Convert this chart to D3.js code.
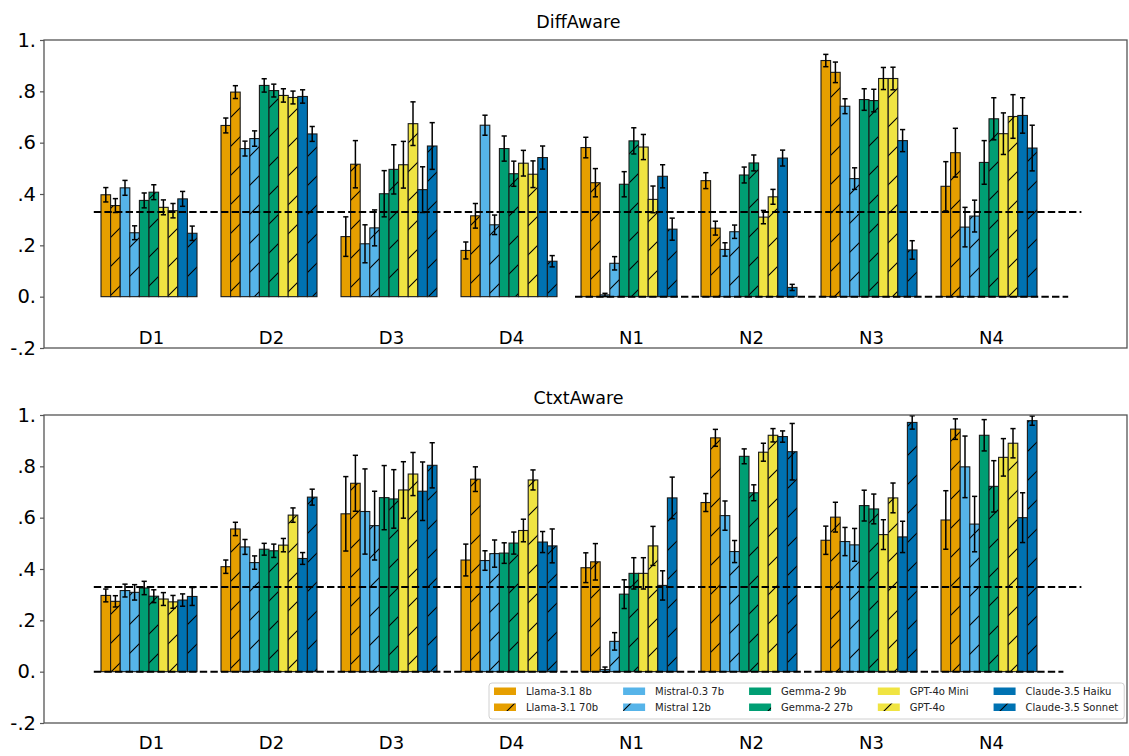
<!DOCTYPE html>
<html>
<head>
<meta charset="utf-8">
<script src="https://cdn.jsdelivr.net/npm/d3@7"></script>
<style>
  html, body { margin: 0; padding: 0; background: #fff; }
  svg { display: block; font-family: "DejaVu Sans", sans-serif; }
</style>
</head>
<body>
<svg id="chart" width="1129" height="756"></svg>
<script>
// ---------------- DATA ----------------
const groups = ["D1", "D2", "D3", "D4", "N1", "N2", "N3", "N4"];
const models = ["Llama-3.1 8b", "Llama-3.1 70b", "Mistral-0.3 7b", "Mistral 12b",
                "Gemma-2 9b", "Gemma-2 27b", "GPT-4o Mini", "GPT-4o",
                "Claude-3.5 Haiku", "Claude-3.5 Sonnet"];
const yTickValues = [1.0, 0.8, 0.6, 0.4, 0.2, 0.0, -0.2];
const yTickLabels = ["1.", ".8", ".6", ".4", ".2", "0.", "-.2"];
const panelTitles = ["DiffAware", "CtxtAware"];
const chanceLevel = 0.33;

// DiffAware values (rows = groups, cols = models)
const diffValues = [
  [0.397, 0.355, 0.424, 0.249, 0.375, 0.407, 0.348, 0.335, 0.381, 0.247],
  [0.667, 0.797, 0.577, 0.616, 0.823, 0.803, 0.784, 0.776, 0.780, 0.634],
  [0.234, 0.516, 0.206, 0.268, 0.401, 0.496, 0.514, 0.674, 0.417, 0.587],
  [0.180, 0.315, 0.668, 0.280, 0.577, 0.479, 0.520, 0.477, 0.542, 0.138],
  [0.581, 0.444, 0.007, 0.130, 0.438, 0.607, 0.583, 0.379, 0.469, 0.263],
  [0.452, 0.267, 0.184, 0.253, 0.474, 0.521, 0.310, 0.389, 0.540, 0.036],
  [0.920, 0.874, 0.742, 0.460, 0.768, 0.764, 0.850, 0.850, 0.608, 0.182],
  [0.430, 0.561, 0.271, 0.314, 0.523, 0.693, 0.635, 0.702, 0.706, 0.579]
];
const diffErrors = [
  [0.028, 0.027, 0.029, 0.027, 0.029, 0.029, 0.029, 0.028, 0.029, 0.028],
  [0.029, 0.025, 0.029, 0.030, 0.026, 0.025, 0.026, 0.025, 0.026, 0.029],
  [0.077, 0.092, 0.074, 0.070, 0.090, 0.096, 0.091, 0.085, 0.089, 0.091],
  [0.033, 0.048, 0.039, 0.038, 0.049, 0.049, 0.050, 0.052, 0.045, 0.022],
  [0.040, 0.055, 0.006, 0.026, 0.049, 0.051, 0.049, 0.052, 0.045, 0.043],
  [0.031, 0.027, 0.026, 0.026, 0.031, 0.031, 0.026, 0.029, 0.031, 0.012],
  [0.024, 0.040, 0.029, 0.042, 0.042, 0.044, 0.043, 0.044, 0.043, 0.036],
  [0.096, 0.095, 0.077, 0.062, 0.085, 0.082, 0.081, 0.085, 0.069, 0.089]
];

// CtxtAware values
const ctxtValues = [
  [0.297, 0.274, 0.316, 0.309, 0.326, 0.294, 0.283, 0.272, 0.279, 0.293],
  [0.409, 0.556, 0.486, 0.425, 0.477, 0.471, 0.493, 0.610, 0.441, 0.680],
  [0.615, 0.734, 0.624, 0.569, 0.678, 0.673, 0.708, 0.770, 0.703, 0.804],
  [0.435, 0.750, 0.433, 0.460, 0.462, 0.501, 0.550, 0.747, 0.505, 0.490],
  [0.405, 0.428, 0.008, 0.118, 0.302, 0.383, 0.383, 0.490, 0.336, 0.677],
  [0.659, 0.911, 0.608, 0.468, 0.839, 0.697, 0.855, 0.921, 0.916, 0.857],
  [0.512, 0.602, 0.507, 0.494, 0.647, 0.634, 0.534, 0.677, 0.525, 0.971],
  [0.591, 0.945, 0.798, 0.575, 0.921, 0.722, 0.835, 0.890, 0.600, 0.978]
];
const ctxtErrors = [
  [0.025, 0.022, 0.025, 0.030, 0.026, 0.025, 0.025, 0.025, 0.024, 0.035],
  [0.026, 0.026, 0.029, 0.026, 0.023, 0.026, 0.026, 0.028, 0.023, 0.031],
  [0.145, 0.109, 0.166, 0.134, 0.125, 0.114, 0.110, 0.084, 0.114, 0.088],
  [0.062, 0.048, 0.038, 0.053, 0.040, 0.043, 0.044, 0.039, 0.041, 0.066],
  [0.058, 0.071, 0.010, 0.034, 0.056, 0.061, 0.061, 0.076, 0.057, 0.081],
  [0.035, 0.033, 0.057, 0.043, 0.029, 0.031, 0.035, 0.026, 0.022, 0.110],
  [0.055, 0.058, 0.055, 0.064, 0.060, 0.058, 0.058, 0.058, 0.061, 0.026],
  [0.114, 0.040, 0.120, 0.108, 0.061, 0.100, 0.073, 0.057, 0.097, 0.018]
];

// ---------------- STYLE / LAYOUT ----------------
const palette = ["#E69F00", "#E69F00", "#56B4E9", "#56B4E9", "#009E73", "#009E73",
                 "#F0E442", "#F0E442", "#0072B2", "#0072B2"];
const hatched = models.map((m, i) => i % 2 === 1);

const svg = d3.select("#chart");
const left = 44, right = 1127;
const barW = 9.6;

const x = d3.scaleLinear().domain([-0.875, 8.15]).range([left, right]);

// hatch patterns
const defs = svg.append("defs");
const P = 29;
const baseColors = Array.from(new Set(palette));
baseColors.forEach((c, k) => {
  const pat = defs.append("pattern")
    .attr("id", "hatch" + k)
    .attr("patternUnits", "userSpaceOnUse")
    .attr("width", P).attr("height", P);
  pat.append("rect").attr("width", P).attr("height", P).attr("fill", c);
  pat.append("path")
    .attr("d", `M0,${P} L${P},0 M${-2},2 L2,${-2} M${P-2},${P+2} L${P+2},${P-2}`)
    .attr("stroke", "#000").attr("stroke-width", 1.1);
});
function fillFor(j) {
  const c = palette[j];
  return hatched[j] ? `url(#hatch${baseColors.indexOf(c)})` : c;
}

const panels = [
  { title: panelTitles[0], values: diffValues, errors: diffErrors, top: 40, bottom: 348,
    titleY: 28, labelY: 344, zeroFrom: 3.55, zeroTo: 7.66 },
  { title: panelTitles[1], values: ctxtValues, errors: ctxtErrors, top: 415, bottom: 723,
    titleY: 404, labelY: 749, zeroFrom: -0.46, zeroTo: 7.62 }
];

panels.forEach((p, pi) => {
  const y = d3.scaleLinear().domain([-0.2, 1.0]).range([p.bottom, p.top]);
  const g = svg.append("g");

  // title
  g.append("text")
    .attr("x", (left + right) / 2 - 7).attr("y", p.titleY)
    .attr("text-anchor", "middle").attr("font-size", 17.5).attr("fill", "#000")
    .text(p.title);

  // y axis
  const yAxis = d3.axisLeft(y).tickValues(yTickValues)
    .tickFormat((d, i) => yTickLabels[i]).tickSize(4).tickPadding(4);
  const ya = g.append("g").attr("transform", `translate(${left},0)`).call(yAxis);
  ya.select(".domain").remove();
  ya.selectAll(".tick line").attr("stroke", "#555").attr("stroke-width", 1.2);
  ya.selectAll(".tick text").attr("font-size", 19.5).attr("fill", "#000")
    .attr("font-family", "DejaVu Sans, sans-serif");

  // x labels
  const xAxis = d3.axisBottom(x).tickValues(groups.map((d, i) => i))
    .tickFormat(i => groups[i]).tickSize(0).tickPadding(0);
  const xa = g.append("g").attr("transform", `translate(2,${p.labelY - 13})`).call(xAxis);
  xa.select(".domain").remove();
  xa.selectAll(".tick text").attr("font-size", 18).attr("fill", "#000")
    .attr("font-family", "DejaVu Sans, sans-serif");

  // bars
  groups.forEach((grp, gi) => {
    models.forEach((m, j) => {
      const v = p.values[gi][j];
      const cx = x(gi) + (j - 4.5) * barW;
      g.append("rect")
        .attr("x", cx - barW / 2).attr("width", barW)
        .attr("y", Math.min(y(v), y(0))).attr("height", Math.abs(y(0) - y(v)))
        .attr("fill", fillFor(j))
        .attr("stroke", "#1a1a1a").attr("stroke-width", 1.1);
    });
  });

  // dashed reference lines
  g.append("line")
    .attr("x1", x(-0.46)).attr("x2", x(7.77))
    .attr("y1", y(chanceLevel)).attr("y2", y(chanceLevel))
    .attr("stroke", "#000").attr("stroke-width", 2).attr("stroke-dasharray", "7.4,3.2");
  g.append("line")
    .attr("x1", x(p.zeroFrom)).attr("x2", x(p.zeroTo))
    .attr("y1", y(0)).attr("y2", y(0))
    .attr("stroke", "#000").attr("stroke-width", 2).attr("stroke-dasharray", "7.4,3.2");

  // error bars
  groups.forEach((grp, gi) => {
    models.forEach((m, j) => {
      const v = p.values[gi][j], e = p.errors[gi][j];
      const cx = x(gi) + (j - 4.5) * barW;
      const eg = g.append("g").attr("stroke", "#000").attr("stroke-width", 1.5);
      eg.append("line").attr("x1", cx).attr("x2", cx).attr("y1", y(v - e)).attr("y2", y(v + e));
      eg.append("line").attr("x1", cx - 2.6).attr("x2", cx + 2.6).attr("y1", y(v - e)).attr("y2", y(v - e));
      eg.append("line").attr("x1", cx - 2.6).attr("x2", cx + 2.6).attr("y1", y(v + e)).attr("y2", y(v + e));
    });
  });

  // frame
  g.append("rect")
    .attr("x", left).attr("y", p.top).attr("width", right - left).attr("height", p.bottom - p.top)
    .attr("fill", "none").attr("stroke", "#555").attr("stroke-width", 1.3);
});

// ---------------- LEGEND ----------------
const lg = svg.append("g");
const legLeft = 489, legTop = 683, rowH = 16;
const box = lg.append("rect")
  .attr("x", legLeft).attr("y", legTop).attr("rx", 3).attr("ry", 3)
  .attr("fill", "#fff").attr("fill-opacity", 0.85)
  .attr("stroke", "#d0d0d0").attr("stroke-width", 1);
let cx = legLeft + 5;
for (let c = 0; c < 5; c++) {
  let maxW = 0;
  for (let r = 0; r < 2; r++) {
    const j = c * 2 + r;
    const ry = legTop + 8 + r * rowH;
    lg.append("rect").attr("x", cx).attr("y", ry - 3.5).attr("width", 22).attr("height", 7.5)
      .attr("fill", fillFor(j));
    const t = lg.append("text").attr("x", cx + 32).attr("y", ry + 3.6)
      .attr("font-size", 10).attr("fill", "#222").text(models[j]);
    maxW = Math.max(maxW, t.node().getComputedTextLength());
  }
  cx += 32 + maxW + (c < 4 ? 25 : 5);
}
box.attr("width", cx - legLeft + 1).attr("height", 2 * rowH + 4);
</script>
</body>
</html>
